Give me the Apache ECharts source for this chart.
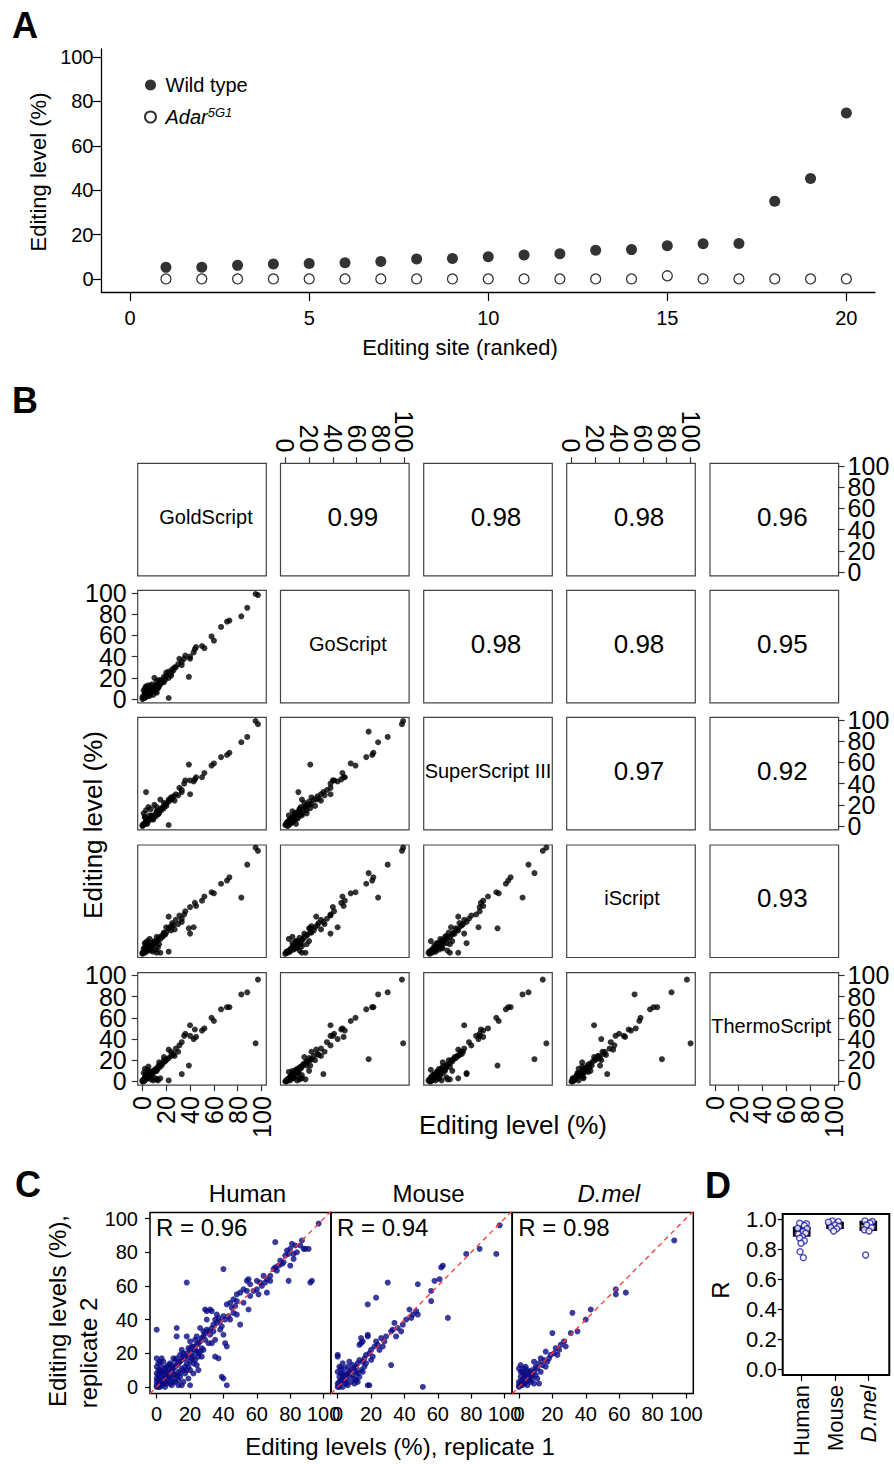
<!DOCTYPE html>
<html>
<head>
<meta charset="utf-8">
<title>RNA editing levels</title>
<script src="https://cdn.jsdelivr.net/npm/echarts@6.0.0/dist/echarts.min.js"></script>
<style>
  html, body { margin: 0; padding: 0; background: #fff; }
  #fig { width: 894px; height: 1464px; }
</style>
</head>
<body>
<div id="fig"></div>
<script>
// ---------- panel A: editing level per ranked site
const siteRank = [1, 2, 3, 4, 5, 6, 7, 8, 9, 10, 11, 12, 13, 14, 15, 16, 17, 18, 19, 20];
const wildType = [5.2, 5.3, 6.1, 6.7, 6.9, 7.3, 7.8, 9.0, 9.2, 10.0, 10.8, 11.3, 12.9, 13.2, 14.9, 15.8, 16.0, 35.0, 45.2, 74.8];
const adarMutant = [0, 0, 0, 0, 0, 0, 0, 0, 0, 0, 0, 0, 0, 0, 1.4, 0, 0, 0, 0, 0];
const genotypes = ['Wild type', 'Adar5G1'];
const aXTicks = [0, 5, 10, 15, 20];
const aYTicks = [0, 20, 40, 60, 80, 100];

// ---------- panel B: same sites measured with 5 RT enzymes (null = not measured)
const rtEnzymes = ['GoldScript', 'GoScript', 'SuperScript III', 'iScript', 'ThermoScript'];
const goldScript = [97, 95, 88, 83, null, 40, 39, 22, 3, 22, 33, 43, 12, 15,
  73, 71, 66, 58, 60, 52, 50, 44, 45, 40, 36, 35, 31, 33, 28, 30, 26, 25, 24, 22, 20, 19, 18, 17, 16, 15, 14, 13, 12, 11,
  10, 10, 9, 8, 8, 7, 6, 6, 5, 5, 4, 4, 3, 3, 2, 2, 1, 1, 0, 0, 1, 2, 3, 5, 6, 4, 8, 12, 14, 18, 20, 24, 27, 7, 9, 11, 13, 2];
const goScript = [98, 99, 86, 78, 70, 38, 21, 1, 11, 26, 32, 44, 17, 14,
  74, 73, 68, 59, 55, 48, 50, 47, 49, 40, 41, 38, 38, 35, 30, 33, 27, 28, 24, 20, 22, 18, 21, 16, 18, 15, 12, 14, 10, 13,
  20, 9, 11, 7, 10, 6, 8, 5, 7, 4, 6, 3, 5, 2, 4, 1, 3, 1, 2, 0, 8, 10, 12, 13, 3, 9, 14, 6, 18, 16, 25, 22, 30, 12, 4, 7, 10, 6];
const superScript = [96, 99, 84, 79, 89, 30, 58, 1, 32, 25, 32, 42, 18, 25,
  69, 67, 65, 57, 59, 50, 46, 44, 46, 43, 43, 40, 36, 34, 30, 29, 28, 26, 25, 23, 21, 20, 17, 18, 15, 16, 15, 12, 13, 11,
  20, 10, 8, 9, 7, 8, 6, 7, 5, 6, 4, 5, 3, 4, 2, 3, 1, 2, 0, 1, 12, 9, 15, 18, 10, 2, 10, 14, 12, 22, 19, 27, 24, 16, 6, 9, 11, 8];
const iScript = [97, 100, 84, 53, 76, 19, 24, 2, 10, 35, 30, 25, 1, 1,
  72, 69, 66, 58, 57, 54, 50, 48, 45, 44, 40, 37, 36, 33, 32, 28, 27, 29, 22, 24, 20, 18, 20, 16, 17, 14, 15, 13, 12, 10,
  12, 11, 9, 8, 10, 6, 7, 5, 8, 4, 5, 3, 4, 2, 3, 1, 2, 1, 1, 0, 5, 6, 10, 9, 14, 12, 7, 16, 9, 19, 25, 26, 23, 3, 2, 4, 6, 10];
const thermoScript = [96, 36, 84, 82, 21, 53, 15, 1, 8, 30, 7, 40, 2, 3,
  70, 70, 68, 60, 57, 50, 48, 49, 42, 43, 45, 43, 34, 37, 31, 28, 26, 25, 24, 22, 21, 19, 20, 17, 15, 16, 13, 14, 11, 12,
  10, 9, 10, 7, 9, 8, 5, 6, 7, 4, 6, 3, 5, 2, 4, 1, 2, 0, 1, 0, 8, 12, 4, 14, 9, 11, 6, 10, 18, 23, 20, 28, 24, 2, 1, 3, 1, 3];
// Pearson r printed in the upper panels (row enzyme vs later enzymes)
const corrGold = ['0.99', '0.98', '0.98', '0.96'];
const corrGo = ['0.98', '0.98', '0.95'];
const corrSuper = ['0.97', '0.92'];
const corrIScript = ['0.93'];
const bTicks = [0, 20, 40, 60, 80, 100];

// ---------- panel C: replicate 1 vs replicate 2
const species = ['Human', 'Mouse', 'D.mel'];
const speciesR = ['R = 0.96', 'R = 0.94', 'R = 0.98'];
const humanReplicates = [
  [97, 97], [87, 87], [89, 82], [81, 85], [80, 82], [78, 81], [82, 79], [79, 79], [77, 78], [82, 76], [71, 86], [75, 73],
  [73, 72], [71, 71], [79, 63], [93, 63], [92, 62], [66, 64], [68, 63], [65, 62], [63, 60], [60, 63], [66, 56], [61, 55],
  [55, 64], [54, 63], [56, 61], [52, 58], [54, 57], [50, 56], [40, 70], [18, 62], [48, 55], [46, 52], [48, 51], [44, 50],
  [42, 49], [47, 48], [55, 46], [50, 37], [29, 46], [32, 46], [35, 40], [37, 41], [38, 39], [40, 42], [36, 38], [39, 36],
  [41, 40], [34, 37], [33, 35], [31, 33], [30, 34], [32, 31], [28, 30], [29, 28], [27, 29], [26, 27], [25, 26], [24, 25],
  [22, 24], [23, 22], [21, 20], [20, 22], [19, 18], [18, 20], [17, 17], [16, 18], [15, 16], [14, 15], [13, 14], [12, 13],
  [11, 12], [10, 11], [9, 10], [8, 9], [7, 8], [6, 7], [5, 6], [4, 5], [3, 4], [2, 3], [1, 2], [0, 1],
  [40, 31], [41, 26], [42, 24], [39, 6], [40, 5], [42, 1], [35, 18], [37, 17], [0, 34], [12, 35], [12, 30], [18, 30],
  [0, 17], [3, 17], [4, 15], [12, 17], [20, 15], [24, 13], [20, 1], [30, 40], [26, 35], [28, 33], [33, 26], [35, 28],
  [25, 20], [22, 18], [24, 30], [20, 27], [15, 22], [17, 12], [14, 8], [16, 10], [10, 17], [8, 14], [6, 12], [12, 6],
  [10, 3], [8, 2], [5, 0], [3, 1], [1, 0], [0, 0], [2, 0], [0, 3], [1, 5], [0, 8], [2, 10], [0, 12], [4, 9], [6, 2],
  [7, 4], [9, 5], [11, 7], [13, 9], [15, 11], [18, 14], [19, 23], [21, 17], [23, 28], [27, 23], [29, 32], [31, 26],
  [34, 33], [36, 43], [38, 34], [33, 45], [30, 45], [44, 40], [46, 44], [45, 47], [43, 42], [48, 43], [52, 50], [56, 54],
  [58, 57], [60, 58], [62, 62], [64, 66], [68, 66], [70, 70], [72, 69], [74, 75], [76, 74], [84, 80], [86, 84], [83, 84],
  [88, 82], [91, 82], [80, 72], [25, 10], [22, 8], [19, 5], [16, 3], [13, 1], [9, 1], [5, 3], [3, 6], [2, 8], [1, 14],
  [1, 7], [3, 9], [5, 11], [7, 13], [2, 15], [4, 2], [6, 5], [8, 6], [10, 8], [11, 3], [13, 4], [14, 6], [15, 1], [17, 8],
  [18, 10], [19, 12], [20, 10], [22, 14], [23, 16], [25, 18], [26, 21], [28, 22], [27, 18], [24, 21], [21, 24], [16, 20],
  [14, 19], [11, 16], [9, 13], [7, 11], [5, 9], [3, 12], [1, 10], [0, 5]
];
const mouseReplicates = [
  [97, 96], [95, 79], [85, 82], [77, 79], [63, 72], [62, 71], [61, 64], [58, 63], [56, 57], [56, 51], [48, 61], [66, 41],
  [51, 0], [47, 45], [48, 43], [45, 43], [44, 41], [43, 46], [39, 37], [34, 38], [33, 34], [29, 30], [32, 33], [32, 13],
  [30, 62], [23, 53], [18, 49], [18, 31], [18, 30], [14, 26], [14, 29], [13, 25], [15, 27], [23, 27], [24, 25], [22, 24],
  [20, 22], [19, 20], [17, 19], [16, 17], [15, 15], [13, 16], [12, 14], [11, 12], [10, 11], [9, 13], [8, 10], [7, 9],
  [6, 8], [5, 7], [4, 6], [3, 5], [2, 4], [1, 3], [0, 2], [0, 19], [0, 18], [7, 15], [18, 1], [19, 1], [5, 2], [10, 2],
  [12, 8], [14, 10], [16, 12], [20, 16], [25, 22], [27, 24], [26, 29], [28, 27], [10, 5], [8, 3], [6, 1], [3, 0], [1, 0],
  [0, 0], [2, 8], [4, 11], [1, 12], [3, 14], [11, 4], [13, 6], [21, 18], [36, 35], [38, 33], [41, 40], [35, 30],
  [2, 11], [4, 3], [6, 12], [9, 7], [12, 3], [15, 9], [1, 6], [0, 9], [3, 8], [5, 4], [7, 6], [11, 9], [17, 14]
];
const dmelReplicates = [
  [93, 87], [58, 58], [58, 55], [64, 56], [32, 44], [43, 46], [40, 40], [35, 33], [31, 32], [20, 32], [25, 25], [28, 24],
  [22, 23], [19, 19], [16, 21], [13, 17], [9, 15], [1, 13], [11, 5], [12, 2], [24, 22], [27, 27], [21, 20], [18, 17],
  [17, 15], [15, 16], [14, 13], [12, 14], [11, 11], [10, 12], [9, 9], [8, 10], [7, 8], [6, 9], [5, 6], [4, 7], [3, 5],
  [2, 4], [1, 2], [0, 1], [0, 3], [1, 6], [2, 9], [3, 11], [4, 12], [5, 10], [6, 4], [7, 3], [8, 5], [9, 2], [10, 7],
  [2, 1], [3, 2], [0, 0], [5, 1], [13, 9], [16, 12], [23, 19], [1, 9], [0, 11], [4, 3], [6, 6], [8, 7], [3, 8]
];
const cTicks = [0, 20, 40, 60, 80, 100];

// ---------- panel D: replicate correlations per sample
const dGroups = ['Human', 'Mouse', 'D.mel'];
const rHuman = [0.973, 0.970, 0.958, 0.940, 0.936, 0.918, 0.907, 0.900, 0.884, 0.873, 0.856, 0.840, 0.784, 0.744];
const humanJitter = [-0.06, 0.14, 0.08, -0.12, 0.16, 0.04, 0.12, -0.1, 0.02, -0.06, 0.08, -0.02, -0.05, 0.05];
const rMouse = [0.989, 0.984, 0.980, 0.962, 0.951, 0.944, 0.936, 0.922];
const mouseJitter = [-0.08, 0.1, -0.2, 0.0, 0.12, -0.12, 0.05, -0.04];
const rDmel = [0.989, 0.985, 0.975, 0.962, 0.944, 0.930, 0.922, 0.762];
const dmelJitter = [-0.1, 0.12, 0.05, -0.05, 0.1, -0.12, 0.02, -0.08];
// [q1, median, q3] of each group
const boxHuman = [0.884, 0.905, 0.951];
const boxMouse = [0.935, 0.960, 0.984];
const boxDmel = [0.922, 0.951, 0.990];
const dTicks = [0, 0.2, 0.4, 0.6, 0.8, 1.0];

// ---------- layout
const FONT = '"Liberation Sans", Arial, Helvetica, sans-serif';
const INK = '#000';
const NAVY = '#0a0a85';

const B_COL_X = [137.7, 280.5, 423.7, 566.7, 710];
const B_ROW_Y = [463.3, 590.3, 717.3, 845, 972.7];
const B_W = 128.6, B_H = 112.5;
const B_X_RANGE = [-4, 104], B_Y_RANGE = [-3.5, 102.5];
const B_NAME_SHIFT = [4, 3, 0, 1, -3];
const C_X = [150, 331, 512.3];
const C_W = 181, C_TOP = 1212.5, C_H = 181;
const C_X_RANGE = [-4, 104.4], C_Y_RANGE = [-3.9, 103.6];

function valueAxis(gridIndex, range, ticks, o) {
  const label = {
    show: !!o.labels, customValues: o.labelValues || ticks, fontSize: o.fontSize || 20, fontFamily: FONT,
    color: INK, margin: o.margin == null ? 8 : o.margin, rotate: o.rotate || 0,
    showMinLabel: true, showMaxLabel: true, hideOverlap: false
  };
  if (o.formatter) label.formatter = o.formatter;
  if (o.rich) label.rich = o.rich;
  return {
    type: 'value', gridIndex, min: range[0], max: range[1],
    position: o.position,
    axisLine: { show: !!o.line, onZero: false, lineStyle: { color: INK, width: o.lineWidth || 1.3 } },
    axisTick: { show: !!o.ticks, length: o.tickLen || 6, customValues: ticks,
      lineStyle: { color: o.tickColor || INK, width: o.tickWidth || 1.2 } },
    axisLabel: label,
    splitLine: { show: false }
  };
}

function txt(text, x, y, size, o) {
  o = o || {};
  return {
    type: 'text', x, y, rotation: o.rot || 0, silent: true,
    style: {
      text, fontSize: size, fontFamily: FONT, fill: INK,
      fontWeight: o.bold ? 'bold' : 'normal', fontStyle: o.italic ? 'italic' : 'normal',
      align: o.align || 'center', verticalAlign: 'middle'
    }
  };
}

function pairs(xs, ys) {
  const out = [];
  xs.forEach((x, i) => { if (x != null && ys[i] != null) out.push([x, ys[i]]); });
  return out;
}

const grids = [], xAxes = [], yAxes = [], series = [], graphics = [];
const extraX = [], extraY = [];

// ----- A
grids.push({ left: 101.5, top: 49, width: 773.5, height: 243 });
xAxes.push(valueAxis(0, [-0.8, 20.8], aXTicks, { line: true, ticks: true, labels: true, tickLen: 9, margin: 16, position: 'bottom' }));
yAxes.push(valueAxis(0, [-5.9, 103.6], aYTicks, { line: true, ticks: true, labels: true, tickLen: 9, margin: 8, position: 'left' }));
series.push({
  name: genotypes[0], type: 'scatter', xAxisIndex: 0, yAxisIndex: 0, symbolSize: 11,
  itemStyle: { color: INK }, data: siteRank.map((s, i) => [s, wildType[i]])
});
series.push({
  name: genotypes[1], type: 'scatter', xAxisIndex: 0, yAxisIndex: 0, symbolSize: 10,
  itemStyle: { color: '#fff', borderColor: INK, borderWidth: 1.3 }, data: siteRank.map((s, i) => [s, adarMutant[i]])
});
graphics.push(txt('A', 25, 25, 36, { bold: true }));
graphics.push(txt('Editing level (%)', 38, 172, 22, { rot: Math.PI / 2 }));
graphics.push(txt('Editing site (ranked)', 460, 347, 22));

// ----- B
// the B tick labels are packed so tightly that they touch; ECharts drops touching
// neighbours, so every other label goes on a twin axis laid over the first one
const bLabelsEven = bTicks.filter((_, i) => i % 2 === 0);
const bLabelsOdd = bTicks.filter((_, i) => i % 2 === 1);
const enzymeValues = [goldScript, goScript, superScript, iScript, thermoScript];
const corrRows = [corrGold, corrGo, corrSuper, corrIScript];
for (let r = 0; r < 5; r++) {
  for (let c = 0; c < 5; c++) {
    const gi = grids.length;
    grids.push({ left: B_COL_X[c], top: B_ROW_Y[r], width: B_W, height: B_H, show: true,
      borderColor: '#444', borderWidth: 1.2, backgroundColor: 'transparent' });
    const showX = (r === 0 && (c === 1 || c === 3)) || (r === 4 && (c === 0 || c === 4));
    const showY = (c === 0 && (r === 1 || r === 4)) || (c === 4 && (r === 0 || r === 2 || r === 4));
    const xOpt = { rotate: 90, fontSize: 25, margin: 11, tickColor: '#333', position: r === 0 ? 'top' : 'bottom' };
    const yOpt = { fontSize: 25, margin: c === 4 ? 9 : 11, tickColor: '#333', position: c === 4 ? 'right' : 'left' };
    xAxes.push(valueAxis(gi, B_X_RANGE, bTicks, Object.assign({ ticks: showX, labels: showX, labelValues: bLabelsEven }, xOpt)));
    yAxes.push(valueAxis(gi, B_Y_RANGE, bTicks, Object.assign({ ticks: showY, labels: showY, labelValues: bLabelsEven }, yOpt)));
    if (showX) extraX.push(valueAxis(gi, B_X_RANGE, bTicks, Object.assign({ labels: true, labelValues: bLabelsOdd }, xOpt)));
    if (showY) extraY.push(valueAxis(gi, B_Y_RANGE, bTicks, Object.assign({ labels: true, labelValues: bLabelsOdd }, yOpt)));
    const cx = B_COL_X[c] + B_W / 2, cy = B_ROW_Y[r] + B_H / 2;
    if (r > c) {
      series.push({ type: 'scatter', xAxisIndex: gi, yAxisIndex: gi, symbolSize: 6, silent: true,
        itemStyle: { color: INK }, data: pairs(enzymeValues[c], enzymeValues[r]) });
    } else if (r === c) {
      graphics.push(txt(rtEnzymes[r], cx + B_NAME_SHIFT[r], cy - 3, 20));
    } else {
      graphics.push(txt(corrRows[r][c - r - 1], cx + 8, cy - 3, 26));
    }
  }
}
graphics.push(txt('B', 25, 400, 36, { bold: true }));
graphics.push(txt('Editing level (%)', 93, 825, 26, { rot: Math.PI / 2 }));
graphics.push(txt('Editing level (%)', 513, 1125, 26));

// ----- C
const cData = [humanReplicates, mouseReplicates, dmelReplicates];
for (let k = 0; k < 3; k++) {
  const gi = grids.length;
  grids.push({ left: C_X[k], top: C_TOP, width: C_W, height: C_H, show: true,
    borderColor: INK, borderWidth: 1.5, backgroundColor: 'transparent' });
  xAxes.push(valueAxis(gi, C_X_RANGE, cTicks, { ticks: true, labels: true, tickLen: 5, margin: 10, position: 'bottom' }));
  yAxes.push(valueAxis(gi, C_Y_RANGE, cTicks, { ticks: k === 0, labels: k === 0, tickLen: 5, margin: 12, position: 'left' }));
  series.push({ type: 'scatter', xAxisIndex: gi, yAxisIndex: gi, symbolSize: 6, silent: true,
    itemStyle: { color: NAVY }, data: cData[k] });
  series.push({ type: 'line', xAxisIndex: gi, yAxisIndex: gi, symbol: 'none', silent: true, clip: true,
    lineStyle: { color: '#ff3636', width: 1.3, type: [5, 4] },
    data: [[C_X_RANGE[0], C_X_RANGE[0]], [C_X_RANGE[1], C_X_RANGE[1]]] });
  graphics.push(txt(species[k], C_X[k] + C_W / 2 + (k === 2 ? 6 : 7), 1193, 24, { italic: k === 2 }));
  graphics.push(txt(speciesR[k], C_X[k] + 6, 1227, 24, { align: 'left' }));
}
graphics.push(txt('C', 28, 1184, 36, { bold: true }));
graphics.push(txt('Editing levels (%),', 57, 1311, 24, { rot: Math.PI / 2 }));
graphics.push(txt('replicate 2', 88, 1353, 24, { rot: Math.PI / 2 }));
graphics.push(txt('Editing levels (%), replicate 1', 400, 1446, 24));

// ----- D
const gD = grids.length;
grids.push({ left: 782.7, top: 1214, width: 106.6, height: 161, show: true,
  borderColor: INK, borderWidth: 2, backgroundColor: 'transparent' });
xAxes.push(valueAxis(gD, [0.43, 3.63], [1, 2, 3], { ticks: true, labels: true, tickLen: 6, margin: 10,
  rotate: 90, fontSize: 22, position: 'bottom',
  formatter: v => (v === 3 ? '{it|' + dGroups[2] + '}' : dGroups[v - 1]),
  rich: { it: { fontStyle: 'italic', fontSize: 22, fontFamily: FONT, color: INK } } }));
yAxes.push(valueAxis(gD, [-0.038, 1.035], dTicks, { ticks: true, labels: true, tickLen: 5, margin: 6,
  fontSize: 22, position: 'left', formatter: v => v.toFixed(1) }));
const boxes = [boxHuman, boxMouse, boxDmel];
series.push({
  type: 'custom', xAxisIndex: gD, yAxisIndex: gD, silent: true,
  encode: { x: 0, y: [1, 2, 3] },
  data: boxes.map((b, i) => [i + 1, b[0], b[1], b[2]]),
  renderItem: (params, api) => {
    const x = api.value(0), half = 0.265;
    const tl = api.coord([x - half, api.value(3)]);
    const br = api.coord([x + half, api.value(1)]);
    const med = api.coord([x, api.value(2)]);
    return {
      type: 'group', children: [
        { type: 'rect', shape: { x: tl[0], y: tl[1], width: br[0] - tl[0], height: br[1] - tl[1] }, style: { fill: INK } },
        { type: 'line', shape: { x1: tl[0] + 2, y1: med[1], x2: br[0] - 2, y2: med[1] }, style: { stroke: '#f59a5e', lineWidth: 3 } }
      ]
    };
  }
});
[[rHuman, humanJitter], [rMouse, mouseJitter], [rDmel, dmelJitter]].forEach(([vals, jit], i) => {
  series.push({ type: 'scatter', xAxisIndex: gD, yAxisIndex: gD, symbolSize: 6, silent: true, z: 3,
    itemStyle: { color: '#fff', borderColor: '#1c1ca6', borderWidth: 1.4 },
    data: vals.map((v, j) => [i + 1 + jit[j], v]) });
});
graphics.push(txt('D', 718, 1185, 36, { bold: true }));
graphics.push(txt('R', 720, 1290, 24, { rot: Math.PI / 2 }));

const chart = echarts.init(document.getElementById('fig'), null, { renderer: 'svg' });
chart.setOption({
  animation: false,
  backgroundColor: '#fff',
  textStyle: { fontFamily: FONT },
  legend: {
    data: genotypes, orient: 'vertical', left: 139, top: 69, itemWidth: 20, itemHeight: 11, itemGap: 10,
    selectedMode: false,
    formatter: n => (n === genotypes[1] ? '{it|Adar}{sup|5G1}' : n),
    textStyle: {
      fontSize: 20, fontFamily: FONT, color: INK, lineHeight: 22,
      rich: {
        it: { fontSize: 20, fontStyle: 'italic', fontFamily: FONT, color: INK, lineHeight: 22 },
        sup: { fontSize: 13, fontStyle: 'italic', fontFamily: FONT, color: INK, lineHeight: 13, verticalAlign: 'top' }
      }
    }
  },
  grid: grids,
  xAxis: xAxes.concat(extraX),
  yAxis: yAxes.concat(extraY),
  series,
  graphic: graphics
});
</script>
</body>
</html>
